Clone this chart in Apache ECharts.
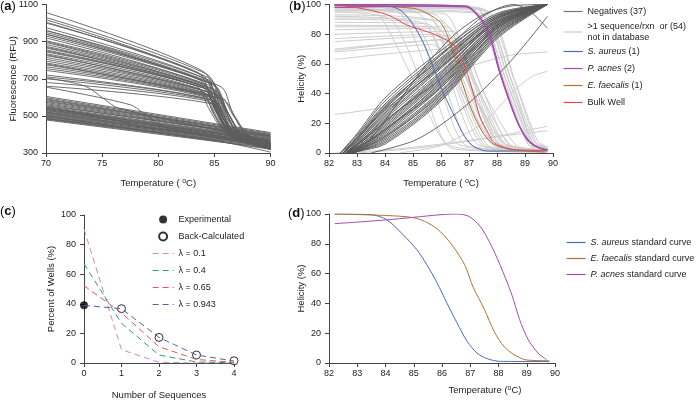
<!DOCTYPE html>
<html><head><meta charset="utf-8">
<script src="https://cdn.jsdelivr.net/npm/echarts@6/dist/echarts.min.js"></script>
<style>html,body{margin:0;padding:0;background:#fff}#c{width:698px;height:401px}</style>
</head><body><div id="c"></div>
<script>
const FONT = 'Liberation Sans, Arial, Helvetica, sans-serif';

// ---------- Panel (a): raw melt curves ----------
// melting wells: [F70, Tknee, Fknee, Tmid, Fmid, Tfoot, Ffoot, F90]
const aMelting = [
 [1057,84.0,740,85.3,560,86.6,420,350],[1030,84.3,725,85.6,560,86.9,425,355],
 [1018,84.0,715,85.2,540,86.5,410,345],[1005,84.5,705,85.8,550,87.0,420,350],
 [975,84.2,700,85.4,545,86.6,415,345],[960,84.6,690,85.9,540,87.1,410,340],
 [950,83.8,690,85.0,540,86.3,415,350],[940,84.4,680,85.6,535,86.8,410,345],
 [930,84.8,670,86.1,530,87.3,410,340],[920,84.1,670,85.3,530,86.5,405,340],
 [905,84.5,665,85.7,525,86.9,405,335],[895,83.9,660,85.1,525,86.4,410,345],
 [885,84.7,650,86.0,520,87.2,405,335],[875,84.2,655,85.5,520,86.7,400,330],
 [865,85.0,640,86.2,515,87.4,400,335],[855,84.3,645,85.4,515,86.6,400,330],
 [845,84.6,640,85.8,510,87.0,395,330],[835,83.7,645,84.9,515,86.2,400,335],
 [825,84.4,630,85.6,505,86.8,395,325],[815,84.9,620,86.3,505,87.5,395,330],
 [805,84.1,625,85.3,505,86.5,395,330],[795,84.5,615,85.7,500,86.9,390,325],
 [785,84.2,615,85.5,500,86.7,390,325],[775,85.2,600,86.4,495,87.6,390,330],
 [765,84.0,610,85.2,495,86.4,390,330],[755,84.7,600,85.9,490,87.1,385,325],
 [745,84.3,600,85.5,490,86.7,385,320],[720,84.6,590,85.8,485,87.0,385,320],
 [710,84.0,595,85.2,485,86.5,390,330],[700,85.0,580,86.2,480,87.4,385,325],
 [680,84.4,580,85.6,480,86.8,380,320],[660,84.8,565,86.0,470,87.2,380,320],
 [870,83.4,660,84.5,540,85.8,430,350],[960,85.5,660,86.6,520,87.8,400,340],
 [1000,83.5,735,84.8,580,86.2,430,355],[830,85.4,610,86.7,500,87.9,400,330],
 [900,84.0,670,85.0,560,86.0,440,360],[780,85.7,590,86.9,490,88.0,395,330],
 [940,84.9,670,86.2,520,87.5,395,330],[850,84.0,650,85.1,535,86.3,420,340]
];
// non-melting wells: [F70, F90]
const aFlat = [
 [605,410],[598,405],[592,400],[588,395],[582,398],[578,392],[572,388],[566,385],
 [560,382],[555,390],[550,378],[545,375],[540,372],[535,370],[530,368],[527,362],
 [522,365],[518,358],[514,355],[510,352],[506,350],[502,345],[498,348],[494,342],
 [490,338],[486,335],[482,330],[478,325],[520,340],[545,360],[500,320],[535,350]
];
// irregular wells: [T, F] points
const aOdd = [
 [[70,705],[73.5,660],[75.2,590],[76.5,540],[90,365]],
 [[70,655],[77.5,560],[79,500],[80.5,440],[90,330]],
 [[70,545],[76,480],[79,435],[81,425],[85,395],[90,345]],
 [[70,485],[84,380],[87,345],[90,305]]
];

// ---------- Panel (b): helicity curves ----------
// negatives: [Tstart, H83, H84, H86, H88]
const bNegBand = [
 [82.4,13,37,69,94],[82.4,12,35,67,93],[82.5,11,33,66,93],[82.4,10,31,64,92],
 [82.5,9,30,62,91],[82.5,8,28,61,91],[82.5,8,27,59,90],[82.6,7,25,58,89],
 [82.5,6,24,57,89],[82.6,6,23,55,88],[82.6,5,21,54,88],[82.6,5,20,52,87],
 [82.6,4,19,51,87],[82.7,4,18,50,86],[82.6,3,17,49,86],[82.7,3,16,47,85],
 [82.7,3,15,46,85],[82.7,2,14,45,84],[82.7,2,13,44,84],[82.8,2,12,42,83],
 [82.8,1.5,11,41,82],[82.8,1.5,10,40,81],[82.8,1,9,38,80],[82.9,1,8,37,79],
 [82.9,1,7,36,78],[82.9,0.8,6,35,77],[82.6,5,22,50,84],[82.5,9,29,58,88],
 [82.7,3,16,44,82],[82.6,6,21,53,90],[82.5,10,32,63,92],[82.7,2.5,15,48,86],
 [82.8,1.5,11,39,80],[82.6,7,26,60,91]
];
const bNegOdd = [
 [[82.6,0],[83.5,10],[84.5,35],[85.5,60],[86.5,80],[87.5,93],[88.5,99],[89.8,100]],
 [[83.5,0],[85,8],[86,19],[87.2,37],[88.4,60],[89.3,80],[89.8,92]],
 [[82.5,0],[84,30],[86,66],[87.5,92],[88.6,100],[89.2,95],[89.8,84]]
];
// >1 sequence / not in database wells: [T, H] points
const bMixed = [
 [[82.2,99],[85.4,96],[86.6,50],[87.7,5],[89.8,1]],
 [[82.2,97],[85.8,93],[86.9,50],[87.9,6],[89.8,1]],
 [[82.2,93],[85.6,90],[87.0,48],[88.0,7],[89.8,2]],
 [[82.2,91],[86.0,89],[87.2,47],[88.2,7],[89.8,2]],
 [[82.2,88],[85.5,87],[86.8,45],[87.8,6],[89.8,1]],
 [[82.2,85],[86.2,85],[87.3,45],[88.3,6],[89.8,2]],
 [[82.2,83],[85.8,84],[87.1,44],[88.1,5],[89.8,1]],
 [[82.2,80],[86.4,82],[87.5,42],[88.4,6],[89.8,2]],
 [[82.2,77],[85.9,80],[87.0,40],[88.0,4],[89.8,1]],
 [[82.2,75],[86.3,79],[87.4,40],[88.5,5],[89.8,2]],
 [[82.2,70],[86.0,76],[87.2,38],[88.3,4],[89.8,1]],
 [[82.2,69],[86.5,77],[87.6,38],[88.7,5],[89.8,2]],
 [[82.2,68],[85.7,73],[86.9,36],[88.0,4],[89.8,1]],
 [[82.2,63],[86.2,70],[87.3,35],[88.4,4],[89.8,1]],
 [[82.2,95],[86.1,94],[87.1,50],[88.1,6],[89.8,1]],
 [[82.2,90],[85.3,88],[86.5,46],[87.5,5],[89.8,1]],
 [[82.2,100],[87.2,98],[88.3,50],[89.2,6],[89.8,3]],
 [[82.2,99],[87.3,97],[88.4,50],[89.3,6],[89.8,3]],
 [[82.2,98],[87.4,97],[88.5,50],[89.35,7],[89.8,4]],
 [[82.2,100],[87.5,97],[88.6,50],[89.4,7],[89.8,4]],
 [[82.2,97],[87.2,95],[88.35,48],[89.25,6],[89.8,3]],
 [[82.2,98],[87.6,96],[88.65,48],[89.45,8],[89.8,4]],
 [[82.2,96],[87.4,94],[88.45,47],[89.3,6],[89.8,3]],
 [[82.2,100],[87.0,97],[88.2,50],[89.1,6],[89.8,3]],
 [[82.2,99],[87.1,97],[88.25,49],[89.15,5],[89.8,3]],
 [[82.2,100],[87.35,98],[88.5,49],[89.3,6],[89.8,4]],
 [[82.2,100],[84.5,95],[85.6,50],[86.6,6],[89.8,1]],
 [[82.2,98],[84.8,92],[85.9,48],[86.9,5],[89.8,1]],
 [[82.2,95],[84.2,90],[85.3,48],[86.3,5],[89.8,0.5]],
 [[82.2,100],[83.6,97],[85.0,50],[86.4,3],[89.8,0.5]],
 [[82.2,99],[85.2,94],[86.3,50],[87.3,6],[89.8,1]],
 [[82.2,92],[85.0,88],[86.1,47],[87.1,5],[89.8,1]],
 [[82.2,86],[85.6,85],[86.6,45],[87.6,5],[89.8,1]],
 [[82.2,26],[84,31],[85.5,42],[87,58],[88.5,66],[89.8,68]],
 [[84.5,0],[86,5],[87.5,20],[88.6,42],[89.3,52],[89.8,55]],
 [[83,0],[85,3],[87,8],[88.5,13],[89.8,18]],
 [[82.2,0],[84,2],[86,6],[88,11],[89.8,15]]
];
const bAureus = [[82.2,99.3],[84.1,99],[84.6,95.5],[85.05,85],[85.4,73],[85.75,57],[86.1,40],[86.5,24],[86.85,11],[87.2,4],[87.7,1.3],[89.8,1.5]];
const bFaecalis = [[82.2,100],[85,97.5],[85.5,94],[86,87.5],[86.35,73],[86.7,51],[87.05,31],[87.45,15],[87.8,7],[88.15,4],[88.6,2.2],[89.8,1.8]];
const bAcnes1 = [[82.2,100],[86.9,99],[87.3,93],[87.55,86],[87.8,75],[88.05,57],[88.4,37],[88.75,20],[89.1,8.5],[89.45,4],[89.8,2.2]];
const bAcnes2 = [[82.2,98],[85,99],[86.9,98.5],[87.35,92],[87.6,85],[87.85,73],[88.1,55],[88.45,35],[88.8,18],[89.15,8],[89.5,3.5],[89.8,2]];
const bBulk = [[82.2,100],[83.1,97.5],[84.1,93],[84.8,86],[85.3,83],[85.75,80],[86.2,76],[86.5,72],[86.7,65],[86.95,53],[87.2,37],[87.4,24],[87.7,13],[87.9,7],[88.4,3],[89.1,1.3],[89.7,0.7]];

// ---------- Panel (c): Poisson fits ----------
const cSeq = [0,1,2,3,4];
const cLam01 = [90.5,9,0.5,0,0];
const cLam04 = [67,26.8,5.4,0.7,0.1];
const cLam065 = [52.2,33.9,11,2.4,0.4];
const cLam0943 = [38.9,36.7,17.3,5.4,1.3];
const cExperimental = [[0,39]];
const cBackCalc = [[1,36.7],[2,17.3],[3,5.4],[4,1.5]];

// ---------- Panel (d): standard curves ----------
const dAureus = [[82.2,100],[83.5,99.5],[84.04,96.2],[84.63,86],[85.11,76],[85.46,66],[85.82,54],[86.18,40],[86.53,27],[86.89,14.5],[87.24,6.7],[87.6,2.9],[88.07,1.1],[89.8,1]];
const dFaecalis = [[82.2,100],[84,99],[85,97.5],[85.5,94],[85.95,88],[86.4,78],[86.8,66],[87.1,51],[87.5,36],[87.85,21],[88.2,11],[88.55,5.6],[89,2],[89.8,1.5]];
const dAcnes = [[82.2,93.5],[84,96],[85,97.8],[86,99.6],[86.5,100],[86.95,98.4],[87.35,91.7],[87.7,80.5],[88.05,66],[88.45,47],[88.75,29],[89.05,15.7],[89.4,6.7],[89.7,2.2]];

// ---------- colours ----------
const C = {axis:'#444', text:'#222', darkA:'#5e5e5e', dark:'#585858', light:'#cdcdcd',
  blue:'#4a6bb6', brown:'#ad7634', purple:'#a44dae', red:'#e8454b',
  l01:'#cf86cf', l04:'#2e9e6e', l065:'#e9505a', l0943:'#4f63a8'};

function line(idx, name, data, color, width, smooth, extra) {
  return Object.assign({type:'line', name: name, xAxisIndex: idx, yAxisIndex: idx, data: data,
    symbol:'none', showSymbol:false, smooth: smooth, silent:true,
    lineStyle:{color: color, width: width}, itemStyle:{color: color}}, extra || {});
}

const series = [];
// (a)
aFlat.forEach(r => series.push(line(0, 'a', [[70,r[0]],[90,r[1]]], C.darkA, 0.9, false)));
aOdd.forEach(p => series.push(line(0, 'a', p, C.darkA, 0.9, 0.3)));
aMelting.forEach(r => series.push(line(0, 'a',
  [[70,r[0]],[r[1],r[2]],[r[3],r[4]],[r[5],r[6]],[90,r[7]]], C.darkA, 0.9, 0.3)));
// (b)
const NEG = 'Negatives (37)', MIX = '>1 sequence/rxn or (54)';
bMixed.forEach(p => series.push(line(1, MIX, p, C.light, 1, 0.22)));
bNegBand.forEach(r => series.push(line(1, NEG,
  [[r[0],0],[83,r[1]],[84,r[2]],[86,r[3]],[88,r[4]],[89.8,100]], C.dark, 0.9, 0.3)));
bNegOdd.forEach(p => series.push(line(1, NEG, p, C.dark, 0.9, 0.3)));
series.push(line(1, 'S. aureus (1)', bAureus, C.blue, 1, 0.3));
series.push(line(1, 'E. faecalis (1)', bFaecalis, C.brown, 1, 0.3));
series.push(line(1, 'P. acnes (2)', bAcnes1, C.purple, 1.3, 0.3));
series.push(line(1, 'P. acnes (2)', bAcnes2, C.purple, 1.3, 0.3));
series.push(line(1, 'Bulk Well', bBulk, C.red, 1, 0.3));
// (c)
const zip = v => cSeq.map((x,i) => [x, v[i]]);
const cLines = [['λ = 0.1', cLam01, C.l01], ['λ = 0.4', cLam04, C.l04], ['λ = 0.65', cLam065, C.l065], ['λ = 0.943', cLam0943, C.l0943]];
cLines.forEach(([n, v, col]) => series.push(line(2, n, zip(v), col, 1, false, {lineStyle:{color: col, width: 1, type: [6,4]}})));
series.push({type:'scatter', name:'Experimental', xAxisIndex:2, yAxisIndex:2, data: cExperimental, clip:false,
  symbol:'circle', symbolSize:8, itemStyle:{color:'#000'}, silent:true});
series.push({type:'scatter', name:'Back-Calculated', xAxisIndex:2, yAxisIndex:2, data: cBackCalc, clip:false,
  symbol:'circle', symbolSize:8, itemStyle:{color:'#fff', borderColor:'#000', borderWidth:1}, silent:true});
// (d)
series.push(line(3, 'S. aureus standard curve', dAureus, C.blue, 1, 0.3));
series.push(line(3, 'E. faecalis standard curve', dFaecalis, C.brown, 1, 0.3));
series.push(line(3, 'P. acnes standard curve', dAcnes, C.purple, 1, 0.3));

const supRich = {sup:{fontSize:7, fontFamily:FONT, color:C.text, verticalAlign:'top', lineHeight:8}};
function xAx(idx, min, max, interval, name, gap, pad) {
  return {type:'value', gridIndex: idx, min, max, interval, name, nameLocation:'middle', nameGap: gap,
    nameMoveOverlap:false,
    nameTextStyle:{fontSize:9.5, fontFamily:FONT, color:C.text, padding: pad || 0, rich: supRich},
    axisLine:{show:true, onZero:false, lineStyle:{color:C.axis, width:1}},
    axisTick:{show:true, length:4, lineStyle:{color:C.axis}},
    axisLabel:{fontSize:9, fontFamily:FONT, color:C.text, margin:6, formatter: v => String(v)},
    splitLine:{show:false}};
}
function yAx(idx, min, max, interval, name, gap) {
  return {type:'value', gridIndex: idx, min, max, interval, name, nameLocation:'middle', nameGap: gap,
    nameMoveOverlap:false,
    nameTextStyle:{fontSize:9.5, fontFamily:FONT, color:C.text},
    axisLine:{show:true, onZero:false, lineStyle:{color:C.axis, width:1}},
    axisTick:{show:true, length:4, lineStyle:{color:C.axis}},
    axisLabel:{fontSize:9, fontFamily:FONT, color:C.text, margin:8, formatter: v => String(v)},
    splitLine:{show:false}};
}
const legTxt = {fontSize:9, fontFamily:FONT, color:C.text, lineHeight:11,
  rich:{i:{fontStyle:'italic', fontSize:9, fontFamily:FONT, color:C.text, lineHeight:11}}};
const italicFmt = n => n.replace(/^(S\. aureus|P\. acnes|E\. faecalis)/, '{i|$1}');
const lineItem = (n, col, type) => ({name: n, itemStyle:{opacity:0, color: col}, lineStyle:{width:1.2, color: col, type: type || 'solid', opacity:1}});
const panelRich = {p:{fontSize:13, fontFamily:FONT, fill:'#111'}, b:{fontSize:13, fontWeight:'bold', fontFamily:FONT, fill:'#111'}};
function tag(letter, x, y) {
  return {type:'text', left:x, top:y, silent:true,
    style:{text:'{p|(}{b|' + letter + '}{p|)}', rich: panelRich, font:'13px ' + FONT, fill:'#111'}};
}

const chart = echarts.init(document.getElementById('c'), null, {renderer:'canvas'});
chart.setOption({
  animation:false,
  backgroundColor:'#fff',
  grid:[{left:46, top:3, width:224.5, height:150},
        {left:329, top:3, width:224, height:150},
        {left:84, top:215, width:150, height:149},
        {left:329, top:214, width:226, height:149}],
  xAxis:[xAx(0,70,90,5,'Temperature ( {sup|o}C)',25),
         xAx(1,82,90,1,'Temperature ( {sup|o}C)',25),
         xAx(2,0,4,1,'Number of Sequences',27),
         xAx(3,82,90,1,'Temperature ({sup|o}C)',22,[0,0,0,86])],
  yAxis:[yAx(0,300,1100,200,'Fluorescence (RFU)',28),
         yAx(1,0,100,20,'Helicity (%)',23),
         yAx(2,0,100,20,'Percent of Wells (%)',28),
         yAx(3,0,100,20,'Helicity (%)',23)],
  legend:[
    {data:[lineItem(NEG, '#777'), lineItem(MIX, C.light)], left:563, top:6, padding:0, orient:'vertical',
     itemWidth:19, itemHeight:8, itemGap:4, textStyle: legTxt, selectedMode:false,
     formatter: n => n === MIX ? '>1 sequence/rxn  or (54)\nnot in database' : n},
    {data:[lineItem('S. aureus (1)', C.blue), lineItem('P. acnes (2)', C.purple), lineItem('E. faecalis (1)', C.brown),
           lineItem('Bulk Well', C.red)], left:563, top:46, padding:0,
     orient:'vertical', itemWidth:19, itemHeight:8, itemGap:6, textStyle: legTxt, selectedMode:false, formatter: italicFmt},
    {data:['Experimental','Back-Calculated'].concat(cLines.map(([n,,col]) => lineItem(n, col, [6,4]))),
     left:152, top:214, padding:0,
     orient:'vertical', itemWidth:21, itemHeight:8, itemGap:6, textStyle: legTxt, selectedMode:false},
    {data:[lineItem('S. aureus standard curve', C.blue), lineItem('E. faecalis standard curve', C.brown),
           lineItem('P. acnes standard curve', C.purple)],
     left:566, top:237, padding:0,
     orient:'vertical', itemWidth:19, itemHeight:8, itemGap:5, textStyle: legTxt, selectedMode:false, formatter: italicFmt}
  ],
  graphic:[tag('a',0,0), tag('b',289,0), tag('c',0,205), tag('d',288,207)],
  series: series
});
</script></body></html>
